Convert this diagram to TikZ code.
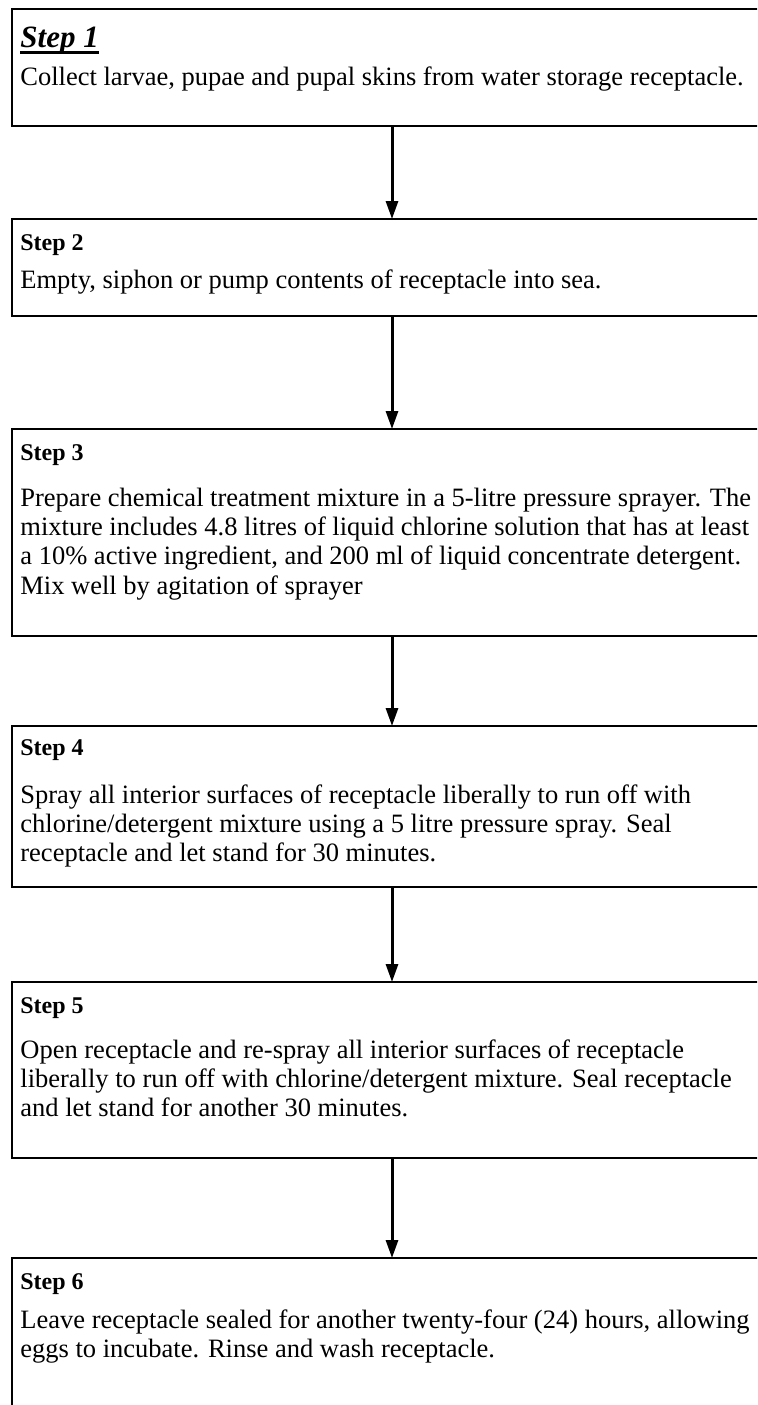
\documentclass[tikz,border=0pt]{standalone}
\usepackage{fontspec}
\setmainfont{Liberation Serif}
\usetikzlibrary{arrows.meta,positioning}
\newcommand{\thickul}[1]{\setbox0\hbox{#1}\rlap{\rule[-3.4pt]{\wd0}{1.2pt}}\box0}

\begin{document}
\begin{tikzpicture}[x=0.5pt, y=-0.5pt,
    stepbox/.style={rectangle, draw=black, line width=0.8pt, anchor=north west,
      minimum width=400pt, inner sep=0pt, outer sep=0pt},
    steptitle/.style={anchor=base west, inner sep=0pt, font=\fontsize{12}{14}\selectfont\bfseries},
    steptext/.style={anchor=north west, inner sep=0pt, align=left,
      font=\fontsize{13.25}{14.6}\selectfont},
    arr/.style={-{Triangle[length=9pt, width=6pt]}, line width=1.5pt, black}
  ]
    \useasboundingbox (0,0) rectangle (757,1405);
    \clip (0,0) rectangle (757,1405);

    \node[stepbox, minimum height=58.5pt]  (b1) at (12,9)    {};
    \node[stepbox, minimum height=48.5pt]  (b2) at (12,219)  {};
    \node[stepbox, minimum height=103.5pt] (b3) at (12,429)  {};
    \node[stepbox, minimum height=80.5pt]  (b4) at (12,726)  {};
    \node[stepbox, minimum height=88pt]    (b5) at (12,982)  {};
    \node[stepbox, minimum height=100pt]   (b6) at (12,1258) {};

    % step headings
    \node[steptitle, font=\fontsize{15.5}{18}\selectfont\bfseries\itshape] (h1) at (20,47) {\thickul{Step 1}};
    \node[steptitle] (h2) at (20,250)  {Step 2};
    \node[steptitle] (h3) at (20,460)  {Step 3};
    \node[steptitle] (h4) at (20,755)  {Step 4};
    \node[steptitle] (h5) at (20,1013) {Step 5};
    \node[steptitle] (h6) at (20,1289) {Step 6};

    % step texts
    \node[steptext, anchor=base west] (t1) at (20,85)
      {Collect larvae, pupae and pupal skins from water storage receptacle.};
    \node[steptext, anchor=base west] (t2) at (20,288)
      {Empty, siphon or pump contents of receptacle into sea.};
    \node[steptext] (t3) at (20,485.6)
      {\strut Prepare chemical treatment mixture in a 5-litre pressure sprayer. The\\
       mixture includes 4.8 litres of liquid chlorine solution that has at least\\
       a 10\% active ingredient, and 200 ml of liquid concentrate detergent.\\
       Mix well by agitation of sprayer};
    \node[steptext] (t4) at (20,782.6)
      {\strut Spray all interior surfaces of receptacle liberally to run off with\\
       chlorine/detergent mixture using a 5 litre pressure spray. Seal\\
       receptacle and let stand for 30 minutes.};
    \node[steptext] (t5) at (20,1037.6)
      {\strut Open receptacle and re-spray all interior surfaces of receptacle\\
       liberally to run off with chlorine/detergent mixture. Seal receptacle\\
       and let stand for another 30 minutes.};
    \node[steptext] (t6) at (20,1307.6)
      {\strut Leave receptacle sealed for another twenty-four (24) hours, allowing\\
       eggs to incubate. Rinse and wash receptacle.};

    \coordinate (ax) at (392,0);
    \draw[arr] (b1.south -| ax) -- (b2.north -| ax);
    \draw[arr] (b2.south -| ax) -- (b3.north -| ax);
    \draw[arr] (b3.south -| ax) -- (b4.north -| ax);
    \draw[arr] (b4.south -| ax) -- (b5.north -| ax);
    \draw[arr] (b5.south -| ax) -- (b6.north -| ax);
\end{tikzpicture}
\end{document}
